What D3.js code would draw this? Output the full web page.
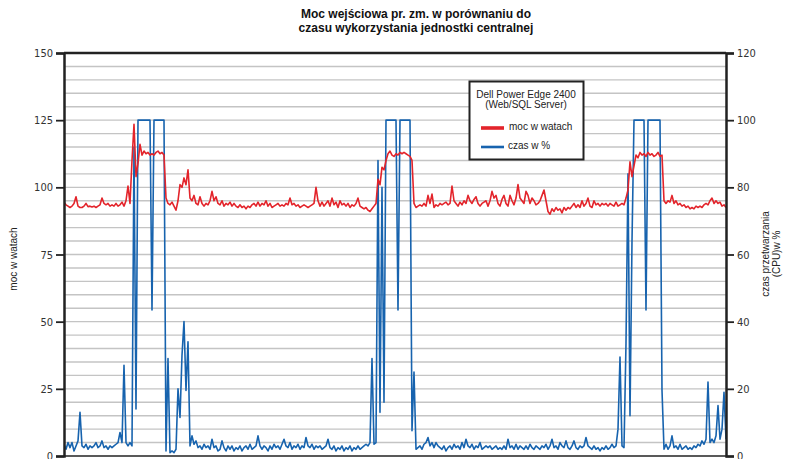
<!DOCTYPE html>
<html><head><meta charset="utf-8">
<script src="https://cdn.jsdelivr.net/npm/d3@7"></script>
<style>body{margin:0;background:#fff}svg{display:block}</style>
</head><body><svg id="c" width="789" height="459"></svg>
<script>
const titleLines = ["Moc wejściowa pr. zm. w porównaniu do", "czasu wykorzystania jednostki centralnej"];
const leftTicks = [0, 25, 50, 75, 100, 125, 150];
const rightTicks = [0, 20, 40, 60, 80, 100, 120];
const leftTitle = "moc w watach";
const rightTitle = ["czas przetwarzania", "(CPU)w %"];
const legendTitle = ["Dell Power Edge 2400", "(Web/SQL Server)"];
const seriesNames = ["moc w watach", "czas w %"];

const power = [
94.5,93.5,93,92.5,93,94,96.5,93,92.5,92.5,93,94,92.8,93,92.7,93,92.5,93,93.5,96,
94,93.5,94,93,93.5,93,94,93,93.5,94.5,93,95,100.5,94,110,123.5,104,109,116,112,
113.5,112.5,113,112,112.5,112,113,113.5,112.5,113,112,96,94,93.5,94.5,93,91.5,95,101,100,
103.5,101,106.5,96,95,97,94,93.5,96.5,94,93,94,93.5,95,98.5,95,96.5,94,93.5,95,
93,94,93.5,94.5,93,94,93,92.5,93.5,92.5,93,92,93,92.5,93.5,94,93,94.5,93,94,
93.5,95,93,94,92.5,93,93.5,94,93,93.5,93,94,93.5,96,93.5,94,93,93.5,92.5,93,
93.5,93,92.5,93,93.5,94,100,95,93,94.5,93,94,95,93,96,93.5,94.5,92.5,95,93.5,
94,93,94,92.5,93.5,93,94,96,93,92.5,92,92.5,91.5,91,92,93,94,103,101,107.5,
106.5,110,112.5,113.5,112,111.5,112.5,112,113,112.5,113,112.5,112,111.5,110,94,92.5,93,93.5,93,
94,93,97,94,97.5,92.5,93.5,93,94,93.5,94,94.5,93.5,94,100.5,95,94,93,94.5,93.5,
95,94,97,95,94,95.5,96.5,94,93,94,94.5,95,93,95,98.5,96,97,94,93,95.5,
97,94,93,97,95,93.5,96,101,96,95,94,98.5,97,94,96,95,93.5,94,95,97,
99,95,91,90,92,91,92.5,91.5,92,90.5,92.5,91.5,92.5,92,93,94,92.5,93.5,92.5,95,
93,94,96,93,92.5,95,93.5,94,93,94,93.5,94,93,94,93.5,93,94.5,93,93.5,94,
93.5,96,99,109.5,104,108,112,111,113,112,112.5,111.5,113,112,112.5,111.5,112,113,111.5,112,
95,94,95,94.5,97,94,95,93.5,94,93,93.5,92.5,93,92,92.5,92,93,92.5,93,92.5,
93.5,94,93.5,95,96,94,95,94,94.5,93,93.5,92.5];

const cpu = [
3.5,2,4,2.5,4,1.5,3,4.5,13,3,2.5,3.5,2,3,2.5,3,4,2.5,3,4.5,
2.5,3,2,3,2.5,3,3.5,4,7,4,27,4,3,4,3,92,14,100,100,100,
100,100,100,100,43.5,100,100,100,100,100,100,1.5,29,1,1.5,1,2,20,11.5,30,
40,19.5,34,3,6,3.5,4.5,2.5,3,2,3.5,2.5,3,2,5,2.5,3,1.5,2,4.5,
2.5,1.5,3,2,3,1.5,2.5,2,3,1.5,2.5,3,2,3.5,2,2.5,3,6,3,2,
3,2.5,1.5,3,2,3.5,2.5,3,2,3.5,5,3,2.5,4,2,3,2.5,3.5,2,3,
2.5,5.5,3,2.5,3.5,2,3,2.5,3,2,2.5,3,5,2.5,2,3,1.5,2.5,2,3,
1.5,2.5,2,3,1.5,2.5,2,3,2,2.5,3,3.5,3,4,29,3.5,4,88,13,80,
16,100,100,100,100,100,100,43.5,100,100,100,100,100,100,7.5,25,2,2.5,3,2,
3.5,4,5.5,3,4,2.5,4,3,2.5,2,3,1.5,2.5,3,2,3.5,2.5,3,2,4,
2.5,5,3,2.5,3.5,2,3,2.5,4,2,2.5,3,2.5,3,2,2.5,3,2,2.5,2,
3,2,5,2.5,3,2,3.5,2,3,2.5,2,3,2,3.5,2.5,2,3,2.5,2,3,
2.5,3.5,2,3,5,2.5,3,2,4,3,2.5,4.5,2.5,2,3,4.5,2.5,2,3,2.5,
3,5.5,3,2.5,2,3,2,2.5,1.5,2.5,2,3,2,2.5,3.5,2.5,3,8,29.5,3,
2.5,33.6,84,12,64,100,100,100,100,100,100,43.5,100,100,100,100,100,100,100,19.6,
2,3.5,2,3,6,2.5,3,2,3.5,2,2.5,3,2,2.5,2,3,2.5,3.5,3,4.5,
3.5,5,22,4,5,4,6,15,5,8,19,5];

const W = 789, H = 459;
const m = {left: 64, right: 726, top: 53, bottom: 456};
const svg = d3.select("#c");
const font = "'Liberation Sans', Arial, Helvetica, sans-serif";
const tickFont = "'Liberation Sans Narrow', 'DejaVu Sans Condensed', Arial, sans-serif";
const red = "#e3242b", blue = "#1763ae";

const x = d3.scaleLinear().domain([0, power.length - 1]).range([m.left, m.right]);
const yL = d3.scaleLinear().domain([0, 150]).range([m.bottom, m.top]);
const yR = d3.scaleLinear().domain([0, 120]).range([m.bottom, m.top]);

// gridlines every 5 watts
const grid = svg.append("g");
grid.selectAll("line").data(d3.range(5, 150, 5)).join("line")
  .attr("x1", m.left).attr("x2", m.right)
  .attr("y1", d => yL(d)).attr("y2", d => yL(d))
  .attr("stroke", "#c4c4c4").attr("stroke-width", 1.4);

// series
const clipId = "plotclip";
svg.append("clipPath").attr("id", clipId).append("rect")
  .attr("x", m.left).attr("y", m.top - 2).attr("width", m.right - m.left).attr("height", m.bottom - m.top + 2);

svg.append("path").datum(cpu)
  .attr("clip-path", `url(#${clipId})`)
  .attr("fill", "none").attr("stroke", blue).attr("stroke-width", 1.6).attr("stroke-linejoin", "round")
  .attr("d", d3.line().x((d, i) => x(i)).y(d => yR(d)));

svg.append("path").datum(power)
  .attr("clip-path", `url(#${clipId})`)
  .attr("fill", "none").attr("stroke", red).attr("stroke-width", 1.6).attr("stroke-linejoin", "round")
  .attr("d", d3.line().x((d, i) => x(i)).y(d => yL(d)));

// axes
const axL = svg.append("g").attr("transform", `translate(${m.left},0)`)
  .call(d3.axisLeft(yL).tickValues(leftTicks).tickSize(8).tickPadding(3));
const axR = svg.append("g").attr("transform", `translate(${m.right},0)`)
  .call(d3.axisRight(yR).tickValues(rightTicks).tickSize(8).tickPadding(3));
[axL, axR].forEach(a => {
  a.select(".domain").attr("stroke", "#222").attr("stroke-width", 2.5);
  a.selectAll(".tick line").attr("stroke", "#222").attr("stroke-width", 1.8);
  a.selectAll(".tick text").attr("font-family", tickFont).attr("font-size", 11).attr("fill", "#333");
});
// top & bottom borders
svg.append("line").attr("x1", m.left).attr("x2", m.right).attr("y1", m.top).attr("y2", m.top)
  .attr("stroke", "#222").attr("stroke-width", 2.5);
svg.append("line").attr("x1", m.left).attr("x2", m.right).attr("y1", m.bottom).attr("y2", m.bottom)
  .attr("stroke", "#222").attr("stroke-width", 1.5);

// title
svg.append("g").selectAll("text").data(titleLines).join("text")
  .attr("x", 416).attr("y", (d, i) => 18 + i * 14)
  .attr("text-anchor", "middle").attr("font-family", font).attr("font-weight", "bold")
  .attr("font-size", 12).attr("fill", "#111").text(d => d);

// axis titles
svg.append("text").attr("transform", `translate(17,259) rotate(-90)`)
  .attr("text-anchor", "middle").attr("font-family", font).attr("font-size", 10).attr("fill", "#222")
  .text(leftTitle);
svg.append("g").attr("transform", `translate(769,254) rotate(-90)`)
  .selectAll("text").data(rightTitle).join("text")
  .attr("x", 0).attr("y", (d, i) => i * 11)
  .attr("text-anchor", "middle").attr("font-family", font).attr("font-size", 10).attr("fill", "#222")
  .text(d => d);

// legend
const lg = svg.append("g");
lg.append("rect").attr("x", 469.5).attr("y", 81.5).attr("width", 114).attr("height", 78)
  .attr("fill", "#fff").attr("stroke", "#222").attr("stroke-width", 2);
lg.selectAll("text.t").data(legendTitle).join("text").attr("class", "t")
  .attr("x", 526).attr("y", (d, i) => 98 + i * 10)
  .attr("text-anchor", "middle").attr("font-family", font).attr("font-size", 10).attr("fill", "#222")
  .text(d => d);
const items = [{name: seriesNames[0], color: red, y: 128, tx: 509}, {name: seriesNames[1], color: blue, y: 147, tx: 508}];
items.forEach(it => {
  lg.append("line").attr("x1", 481).attr("x2", 504).attr("y1", it.y).attr("y2", it.y)
    .attr("stroke", it.color).attr("stroke-width", it.color === red ? 3.6 : 2.6);
  lg.append("text").attr("x", it.tx).attr("y", it.y + 2).attr("font-family", font).attr("font-size", 10)
    .attr("fill", "#222").text(it.name);
});
</script></body></html>
